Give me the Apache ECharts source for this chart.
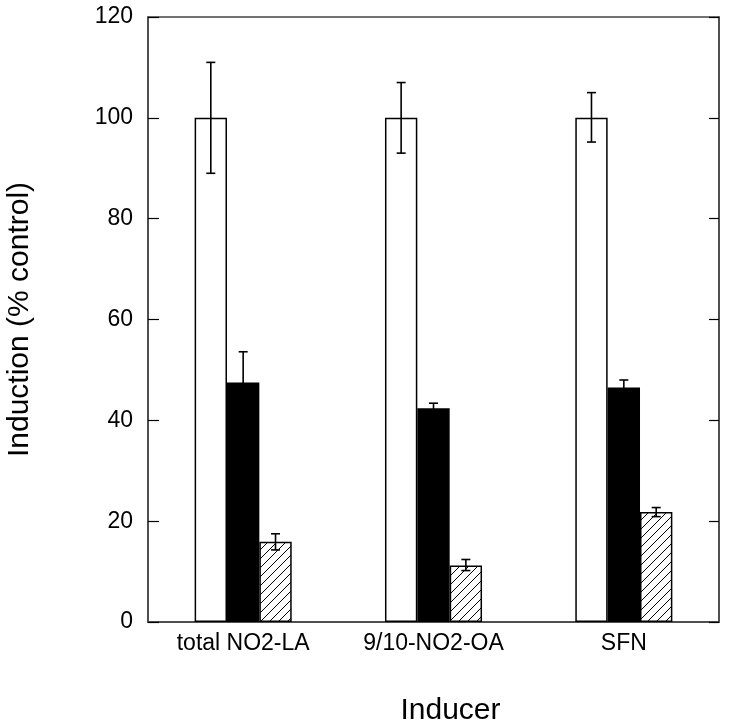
<!DOCTYPE html>
<html>
<head>
<meta charset="utf-8">
<script src="https://cdn.jsdelivr.net/npm/echarts@6/dist/echarts.min.js"></script>
<style>
html,body{margin:0;padding:0;background:#fff;}
#chart{width:729px;height:726px;}
</style>
</head>
<body>
<div id="chart"></div>
<script>
// ---- data ----
var categories = ['total NO2-LA', '9/10-NO2-OA', 'SFN'];
var whiteValues = [100, 100, 100];
var whiteErrLow = [89, 93, 95.2];
var whiteErrHigh = [111, 107, 105];
var blackValues = [47.5, 42.4, 46.5];
var blackErrLow = [41.4, 41.4, 45.0];
var blackErrHigh = [53.6, 43.4, 48.0];
var hatchValues = [15.9, 11.2, 21.8];
var hatchErrLow = [14.3, 10.2, 20.9];
var hatchErrHigh = [17.5, 12.4, 22.7];
var yTicks = [0, 20, 40, 60, 80, 100, 120];
var xName = 'Inducer';
var yName = 'Induction (% control)';

var FONT = '"Liberation Sans", Arial, Helvetica, sans-serif';
var BAR_FRAC = 0.17;

// hatch pattern
var tile = document.createElement('canvas');
tile.width = 9; tile.height = 9;
var ctx = tile.getContext('2d');
ctx.fillStyle = '#fff';
ctx.fillRect(0, 0, 9, 9);
ctx.strokeStyle = '#000';
ctx.lineWidth = 1;
ctx.beginPath();
for (var k = -1; k <= 1; k++) {
  ctx.moveTo(k * 9, 9);
  ctx.lineTo(k * 9 + 9, 0);
}
ctx.stroke();

function errData(low, high, slot) {
  return categories.map(function (c, i) { return [i, low[i], high[i], slot]; });
}
var errAll = [].concat(
  errData(whiteErrLow, whiteErrHigh, -1),
  errData(blackErrLow, blackErrHigh, 0),
  errData(hatchErrLow, hatchErrHigh, 1)
);

function renderErr(params, api) {
  var idx = api.value(0);
  var lo = api.coord([idx, api.value(1)]);
  var hi = api.coord([idx, api.value(2)]);
  var slot = api.value(3);
  var bw = api.size([1, 0])[0] * BAR_FRAC;
  var x = lo[0] + slot * bw;
  var cap = 4.5;
  var style = { stroke: '#000', lineWidth: 1.6 };
  return {
    type: 'group',
    children: [
      { type: 'line', shape: { x1: x, y1: lo[1], x2: x, y2: hi[1] }, style: style },
      { type: 'line', shape: { x1: x - cap, y1: lo[1], x2: x + cap, y2: lo[1] }, style: style },
      { type: 'line', shape: { x1: x - cap, y1: hi[1], x2: x + cap, y2: hi[1] }, style: style }
    ]
  };
}

var chart = echarts.init(document.getElementById('chart'), null, { renderer: 'canvas' });
var barBorder = { borderColor: '#000', borderWidth: 1.5 };
chart.setOption({
  animation: false,
  backgroundColor: '#fff',
  grid: { left: 148, right: 10, top: 17, bottom: 104, show: true, borderColor: '#444', borderWidth: 1.5,
    backgroundColor: 'transparent', containLabel: false, outerBoundsMode: 'none' },
  xAxis: {
    type: 'category',
    data: categories,
    name: xName,
    nameLocation: 'middle',
    nameGap: 74,
    nameTextStyle: { fontFamily: FONT, fontSize: 30, color: '#000', padding: [0, 0, 0, 34] },
    axisLine: { show: true, lineStyle: { color: '#444', width: 1.5 } },
    axisTick: { show: false },
    axisLabel: { fontFamily: FONT, fontSize: 23, color: '#000', margin: 10 },
    splitLine: { show: false }
  },
  yAxis: [{
    type: 'value',
    min: 0, max: 120, interval: 20,
    name: yName,
    nameLocation: 'middle',
    nameGap: 113,
    nameTextStyle: { fontFamily: FONT, fontSize: 30, color: '#000' },
    axisLine: { show: true, lineStyle: { color: '#444', width: 1.5 } },
    axisTick: { show: true, inside: true, length: 11, lineStyle: { color: '#000', width: 1.2 } },
    axisLabel: { fontFamily: FONT, fontSize: 23, color: '#000', margin: 15,
      formatter: function (v) { return yTicks.indexOf(v) >= 0 ? String(v) : ''; } },
    splitLine: { show: false }
  }, {
    type: 'value',
    position: 'right',
    min: 0, max: 120, interval: 20,
    axisLine: { show: true, lineStyle: { color: '#444', width: 1.5 } },
    axisTick: { show: true, inside: true, length: 10, lineStyle: { color: '#000', width: 1.2 } },
    axisLabel: { show: false },
    splitLine: { show: false }
  }],
  series: [
    { type: 'bar', data: whiteValues, barWidth: (BAR_FRAC * 100) + '%', barGap: '0%',
      itemStyle: Object.assign({ color: '#fff' }, barBorder), z: 2 },
    { type: 'bar', data: blackValues, barWidth: (BAR_FRAC * 100) + '%', barGap: '0%',
      itemStyle: Object.assign({ color: '#000' }, barBorder), z: 2 },
    { type: 'bar', data: hatchValues, barWidth: (BAR_FRAC * 100) + '%', barGap: '0%',
      itemStyle: Object.assign({ color: { image: tile, repeat: 'repeat' } }, barBorder), z: 2 },
    { type: 'custom', data: errAll, renderItem: renderErr, z: 5,
      encode: { x: 0, y: [1, 2] } }
  ]
});
</script>
</body>
</html>
